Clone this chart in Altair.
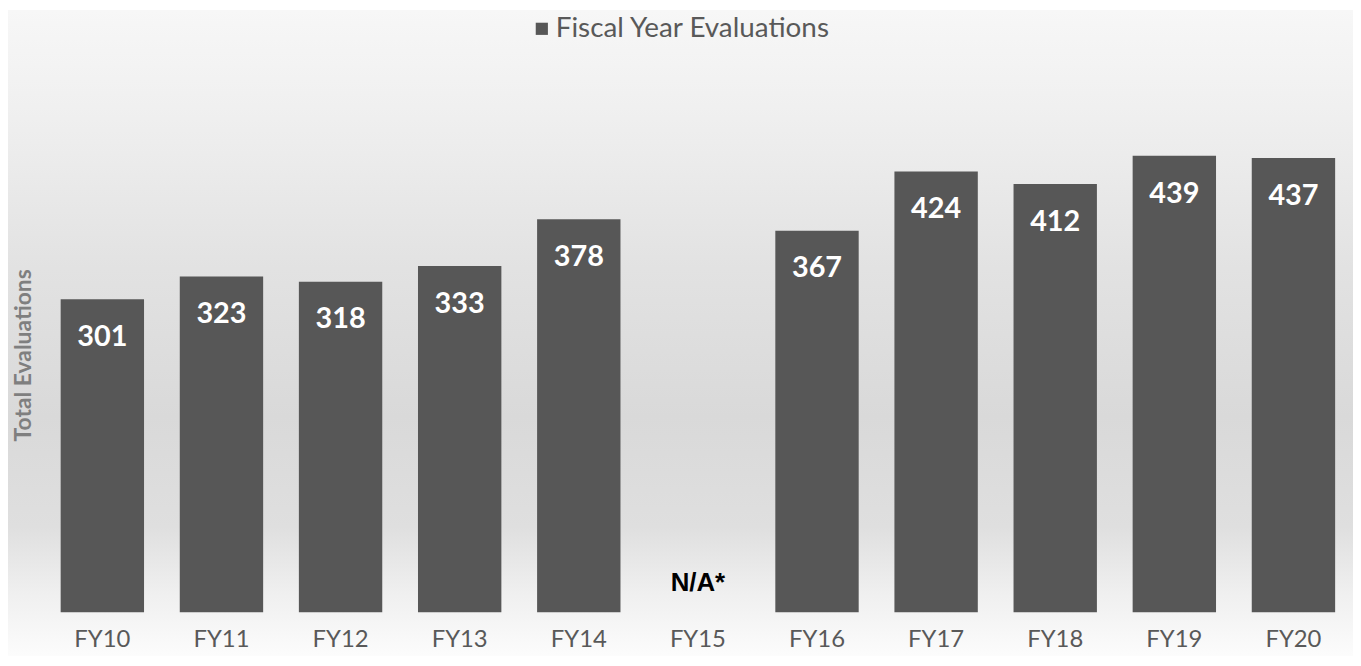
import altair as alt
import pandas as pd

years = ["FY10", "FY11", "FY12", "FY13", "FY14", "FY15", "FY16", "FY17", "FY18", "FY19", "FY20"]
values = [301, 323, 318, 333, 378, None, 367, 424, 412, 439, 437]
series_name = "Fiscal Year Evaluations"
na_years = ["FY15"]
na_texts = ["N/A*"]
na_values = [0]

df = pd.DataFrame({"year": years, "value": values, "series": [series_name] * len(years)})
df_lab = df.dropna().copy()
df_lab["label"] = df_lab["value"].astype(int).astype(str)
df_na = pd.DataFrame({"year": na_years, "text": na_texts, "value": na_values})

W, H = 1318, 523
PAD = {"left": 35, "top": 83, "right": 0, "bottom": 44}

bg = alt.Chart(pd.DataFrame({"k": [0]})).mark_rect(
    clip=False,
    color=alt.Gradient(
        gradient="linear", x1=0, y1=0, x2=0, y2=1,
        stops=[
            alt.GradientStop(offset=0, color="#f7f7f7"),
            alt.GradientStop(offset=0.15, color="#f0f0f0"),
            alt.GradientStop(offset=0.4, color="#e2e2e2"),
            alt.GradientStop(offset=0.63, color="#d9d9d9"),
            alt.GradientStop(offset=0.8, color="#dfdfdf"),
            alt.GradientStop(offset=0.9, color="#efefef"),
            alt.GradientStop(offset=1, color="#fcfcfc"),
        ],
    ),
).encode(
    x=alt.value(-PAD["left"]), x2=alt.value(W),
    y=alt.value(-PAD["top"]), y2=alt.value(H + PAD["bottom"]),
)

xenc = alt.X(
    "year:N", sort=years,
    scale=alt.Scale(domain=years, paddingInner=0.3, paddingOuter=0.15, round=False),
    axis=alt.Axis(
        title=None, domain=False, ticks=False, labelAngle=0, zindex=1,
        labelFont="Lato", labelFontSize=24, labelColor="#595959",
        labelPadding=27, labelBaseline="middle",
    ),
)
yenc = alt.Y(
    "value:Q", scale=alt.Scale(domain=[0, 500]),
    axis=alt.Axis(
        title="Total Evaluations", labels=False, ticks=False, domain=False, grid=False, zindex=1,
        titleAngle=270, titleX=-19, titleY=264, titleAlign="center", titleBaseline="middle",
        titleFont="Lato", titleFontSize=23, titleFontWeight="bold", titleColor="#7f7f7f",
    ),
)

bars = alt.Chart(df).mark_bar().encode(
    x=xenc, y=yenc,
    color=alt.Color(
        "series:N", scale=alt.Scale(domain=[series_name], range=["#575757"]),
        legend=alt.Legend(
            title=None, orient="none", legendX=488, legendY=-78, zindex=1,
            symbolType="square", symbolSize=150, symbolStrokeWidth=0, labelLimit=0,
            labelFont="Lato", labelFontSize=28, labelColor="#595959", labelOffset=0,
        ),
    ),
)

labels = alt.Chart(df_lab).mark_text(
    color="white", font="Lato", fontSize=29, fontWeight="bold", baseline="middle", dy=38,
).encode(x=alt.X("year:N", sort=years), y="value:Q", text="label:N")

na = alt.Chart(df_na).mark_text(
    color="black", font="Liberation Sans", fontSize=26, fontWeight="bold", baseline="middle", dy=-29,
).encode(x=alt.X("year:N", sort=years), y="value:Q", text="text:N")

chart = alt.layer(bg, bars, labels, na).properties(
    width=W, height=H, padding=PAD, autosize=alt.AutoSizeParams(type="none"),
).configure_view(stroke=None).configure_axisY(
    titleFont="Lato", titleFontSize=23, titleFontWeight="bold", titleColor="#7f7f7f",
)

chart.save("out.html", embed_options={"renderer": "svg", "actions": False})
